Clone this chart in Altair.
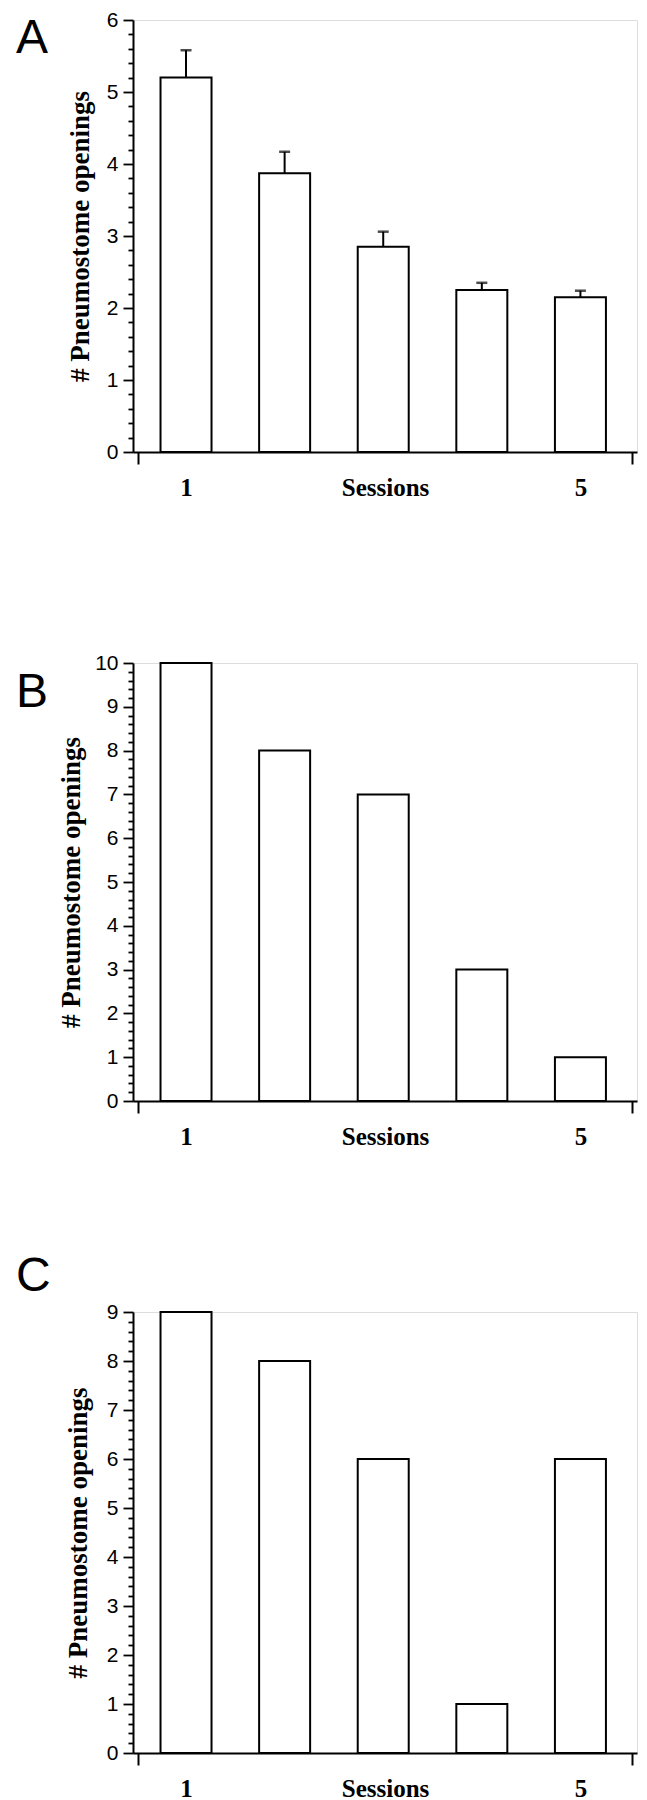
import altair as alt
import pandas as pd

# ---- data ----
sessions = [1, 2, 3, 4, 5]
a_means = [5.2, 3.87, 2.85, 2.25, 2.15]
a_upper = [5.58, 4.17, 3.06, 2.35, 2.24]
b_counts = [10, 8, 7, 3, 1]
c_counts = [9, 8, 6, 1, 6]
panel_letters = ["A", "B", "C"]
y_max = [6, 10, 9]
labeled_sessions = [1, 5]
x_title = "Sessions"
y_title = "# Pneumostome openings"

X_DOMAIN = [0.513, 5.523]
PLOT_W = 504
SERIF = "Liberation Serif"
SANS = "Liberation Sans"


def panel(values, letter, ymax, height, title_x, letter_dy, upper=None):
    df = pd.DataFrame({"session": sessions, "value": values})
    if upper is not None:
        df["upper"] = upper
    minor = [round(i * 0.2, 1) for i in range(int(ymax * 5) + 1)]
    cond_end = " || ".join(f"datum.value == {s}" for s in labeled_sessions)
    x_axis = alt.Axis(
        values=[X_DOMAIN[0]] + labeled_sessions + [X_DOMAIN[1]],
        labelExpr=f"({cond_end}) ? format(datum.value, 'd') : ''",
        tickOpacity={"condition": {"test": cond_end, "value": 0}, "value": 1},
        tickSize=12, tickWidth=2, tickColor="black",
        domainWidth=2, domainColor="black",
        labelFont=SERIF, labelFontWeight="bold", labelFontSize=25,
        labelColor="black", labelBaseline="alphabetic", labelPadding=31,
        labelOverlap=False, labelFlush=False, grid=False,
        title=x_title, titleFont=SERIF, titleFontWeight="bold",
        titleFontSize=25, titleColor="black", titleBaseline="alphabetic",
        titleY=43,
    )
    y_axis = alt.Axis(
        values=minor,
        labelExpr="datum.value % 1 == 0 ? format(datum.value, 'd') : ''",
        tickSize={"condition": {"test": "datum.value % 1 != 0", "value": 5}, "value": 10},
        tickWidth=1.8, tickColor="black",
        domainWidth=2, domainColor="black",
        labelFont=SANS, labelFontSize=21, labelColor="black", labelPadding=5,
        labelOverlap=False, grid=False,
        title=y_title, titleFont=SERIF, titleFontWeight="bold",
        titleFontSize=27, titleColor="black", titleAngle=-90,
        titleBaseline="alphabetic", titleAlign="center",
        titleX=title_x, titleY=height / 2,
    )
    x_scale = alt.Scale(domain=X_DOMAIN, nice=False, zero=False)
    y_scale = alt.Scale(domain=[0, ymax], nice=False)

    def X():
        return alt.X("session:Q", scale=x_scale, axis=x_axis)

    def Y(field):
        return alt.Y(f"{field}:Q", scale=y_scale, axis=y_axis)

    base = alt.Chart(df)
    bars = base.mark_bar(width=51, fill="white", stroke="black", strokeWidth=2).encode(
        x=X(), y=Y("value")
    )
    layers = [bars]
    if upper is not None:
        err = base.mark_rule(color="black", strokeWidth=2).encode(
            x=X(), y=Y("value"), y2="upper:Q"
        )
        cap = base.mark_tick(orient="horizontal", size=11, thickness=2.5, color="black").encode(
            x=X(), y=Y("upper")
        )
        layers += [err, cap]
    return alt.layer(*layers).properties(
        width=PLOT_W,
        height=height,
        title=alt.TitleParams(
            text=letter, anchor="start", frame="group", orient="top", offset=0,
            dx=-117, dy=letter_dy, baseline="alphabetic", font=SANS,
            fontSize=48, fontWeight="normal", color="black",
        ),
    )


pA = panel(a_means, panel_letters[0], y_max[0], 432, -45, 92, upper=a_upper)
pB = panel(b_counts, panel_letters[1], y_max[1], 438, -54, 103)
pC = panel(c_counts, panel_letters[2], y_max[2], 441, -47, 38)

chart = (
    alt.vconcat(pA, pB, pC, spacing=211, bounds="flush")
    .properties(padding={"left": 7, "top": 0, "right": 0, "bottom": 0})
    .configure_view(stroke=None)
    .configure(background="white")
)

chart.save("out.html", embed_options={"renderer": "svg", "actions": False})
